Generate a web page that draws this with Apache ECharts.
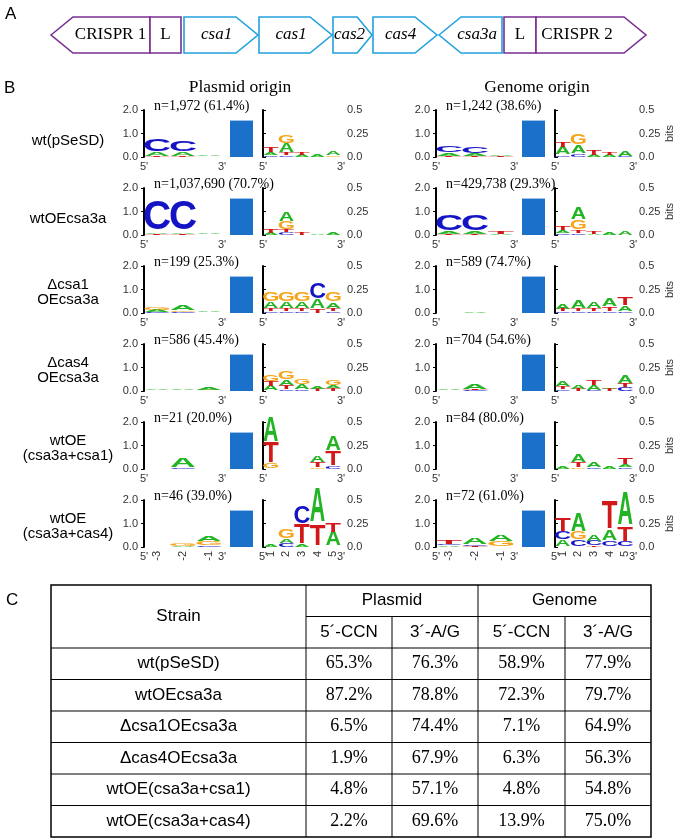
<!DOCTYPE html>
<html><head><meta charset="utf-8">
<script src="https://cdn.jsdelivr.net/npm/echarts@6/dist/echarts.min.js"></script>
<style>html,body{margin:0;padding:0;background:#fff}#c{width:675px;height:838px}</style>
</head><body><div id="c"></div>
<script>
// ---------------- DATA ----------------
const geneNames = ['CRISPR 1','L','csa1','cas1','cas2','cas4','csa3a','L','CRISPR 2'];
const geneStart = [0, 99, 133, 208, 282, 322, 388, 453, 485];
const geneEnd   = [99, 130, 207, 281, 321, 386, 451, 485, 595];
const geneDir   = [-1, 0, 1, 1, 1, 1, -1, 0, 1];
const geneIsCas = [0, 0, 1, 1, 1, 1, 1, 0, 0];

const rowLabels = [['wt(pSeSD)'], ['wtOEcsa3a'], ['Δcsa1','OEcsa3a'], ['Δcas4','OEcsa3a'], ['wtOE','(csa3a+csa1)'], ['wtOE','(csa3a+cas4)']];
const nPlasmid = ['n=1,972 (61.4%)','n=1,037,690 (70.7%)','n=199 (25.3%)','n=586 (45.4%)','n=21 (20.0%)','n=46 (39.0%)'];
const nGenome  = ['n=1,242 (38.6%)','n=429,738 (29.3%)','n=589 (74.7%)','n=704 (54.6%)','n=84 (80.0%)','n=72 (61.0%)'];
const spacerBar = [1.55, 1.55, 1.55, 1.55, 1.55, 1.55];
const upTicks = ['-3','-2','-1'];
const downTicks = ['1','2','3','4','5'];

// letter stacks (bottom -> top), [letter, bits]
const plasmidUp = [
  [[['T',0.03],['A',0.15],['C',0.5]], [['T',0.03],['A',0.15],['C',0.48]], [['T',0.02],['G',0.02],['A',0.04]]],
  [[['T',0.03],['A',0.07],['C',1.3]], [['T',0.03],['A',0.07],['C',1.3]], [['T',0.02],['A',0.05]]],
  [[['C',0.03],['A',0.09],['G',0.12]], [['C',0.04],['G',0.05],['A',0.2]], [['G',0.02],['A',0.05]]],
  [[['G',0.02],['A',0.03]], [['T',0.02],['G',0.02],['A',0.07]], [['T',0.02],['G',0.03],['A',0.08]]],
  [[['A',0.01]], [['C',0.05],['A',0.4]], []],
  [[['A',0.02]], [['A',0.05],['G',0.1]], [['C',0.08],['G',0.15],['A',0.2]]]
];
const genomeUp = [
  [[['T',0.03],['A',0.13],['C',0.3]], [['T',0.03],['A',0.12],['C',0.3]], [['T',0.03],['A',0.05]]],
  [[['T',0.03],['A',0.08],['C',0.7]], [['T',0.03],['A',0.08],['C',0.7]], [['A',0.04],['T',0.08]]],
  [[['A',0.02]], [['A',0.03]], []],
  [[['T',0.02],['A',0.05]], [['C',0.03],['T',0.04],['A',0.22]], [['A',0.02]]],
  [[['A',0.01]], [['T',0.02],['A',0.02]], []],
  [[['A',0.06],['C',0.04],['T',0.16]], [['T',0.04],['C',0.06],['A',0.26]], [['G',0.22],['A',0.29]]]
];
const plasmidDown = [
  [[['C',0.02],['A',0.03],['T',0.05]], [['C',0.02],['T',0.02],['A',0.1],['G',0.09]], [['A',0.02],['T',0.02]], [['A',0.02]], [['G',0.02],['A',0.04]]],
  [[['A',0.02],['T',0.04]], [['C',0.03],['T',0.02],['G',0.09],['A',0.1]], [['T',0.02]], [['A',0.01]], [['A',0.02]]],
  [[['C',0.02],['T',0.02],['A',0.07],['G',0.1]], [['C',0.02],['T',0.02],['A',0.07],['G',0.1]], [['C',0.02],['T',0.02],['A',0.07],['G',0.1]], [['T',0.04],['A',0.1],['C',0.17]], [['C',0.02],['T',0.03],['A',0.06],['G',0.1]]],
  [[['A',0.05],['T',0.05],['G',0.07]], [['C',0.02],['T',0.04],['A',0.06],['G',0.09]], [['C',0.02],['A',0.05],['G',0.05]], [['T',0.02],['A',0.02]], [['T',0.03],['A',0.03],['G',0.06]]],
  [[['G',0.05],['T',0.22],['A',0.27]], [], [], [['G',0.02],['T',0.05],['A',0.07]], [['C',0.03],['T',0.15],['A',0.15]]],
  [[['A',0.02]], [['C',0.04],['A',0.04],['G',0.1]], [['A',0.02],['T',0.21],['C',0.19]], [['T',0.23],['A',0.37]], [['A',0.15],['T',0.1]]]
];
const genomeDown = [
  [[['C',0.02],['A',0.08],['T',0.05]], [['C',0.03],['A',0.09],['G',0.11]], [['A',0.02],['T',0.05]], [['A',0.02],['T',0.02]], [['C',0.01],['A',0.05]]],
  [[['C',0.02],['A',0.03],['T',0.04]], [['C',0.02],['T',0.03],['G',0.1],['A',0.13]], [['A',0.01],['T',0.03]], [['A',0.02]], [['A',0.04]]],
  [[['C',0.02],['T',0.02],['A',0.06]], [['C',0.02],['T',0.02],['A',0.08]], [['C',0.02],['T',0.02],['A',0.07]], [['C',0.02],['T',0.04],['A',0.08]], [['C',0.02],['A',0.05],['T',0.09]]],
  [[['C',0.02],['T',0.03],['A',0.05]], [['T',0.02],['A',0.04]], [['C',0.01],['A',0.05],['T',0.06]], [['T',0.02],['A',0.01]], [['C',0.04],['T',0.04],['A',0.09]]],
  [[['A',0.03]], [['G',0.02],['T',0.05],['A',0.08]], [['C',0.02],['A',0.05]], [['A',0.02]], [['C',0.02],['A',0.02],['T',0.07]]],
  [[['A',0.07],['C',0.08],['T',0.14]], [['C',0.07],['G',0.08],['A',0.19]], [['T',0.01],['C',0.05],['A',0.07]], [['C',0.06],['A',0.11],['T',0.3]], [['C',0.05],['T',0.15],['A',0.35]]]
];

const tableStrains = ['wt(pSeSD)','wtOEcsa3a','Δcsa1OEcsa3a','Δcas4OEcsa3a','wtOE(csa3a+csa1)','wtOE(csa3a+cas4)'];
const plasmidCCN = ['65.3%','87.2%','6.5%','1.9%','4.8%','2.2%'];
const plasmidAG  = ['76.3%','78.8%','74.4%','67.9%','57.1%','69.6%'];
const genomeCCN  = ['58.9%','72.3%','7.1%','6.3%','4.8%','13.9%'];
const genomeAG   = ['77.9%','79.7%','64.9%','56.3%','54.8%','75.0%'];

// ---------------- STYLE / LAYOUT ----------------
const SANS = '"Liberation Sans", Arial, sans-serif';
const SERIF = '"Liberation Serif", "Times New Roman", serif';
const LCOL = {A:'#22B422', C:'#1414C4', G:'#F5A51C', T:'#D21818'};
const GW = {A:0.70, C:0.64, G:0.68, T:0.58};
const CH = {A:0.716, C:0.74, G:0.74, T:0.716};
const ROW0 = 110, PITCH = 78, LH = 47, COLDX = 292;

const grids = [], xAxes = [], yAxes = [], series = [], graphics = [];
function addGrid(left, top, width, height) {
  grids.push({left, top, width, height, containLabel: false, outerBoundsMode: 'none'});
  return grids.length - 1;
}
const axisLab = {fontSize: 11, color: '#333', fontFamily: SANS};

function logoSeries(xi, yi, stacks) {
  const data = [];
  stacks.forEach((st, i) => {
    let b = 0;
    st.forEach(([L, h]) => { data.push([i + 0.5, b, b + h, 'ACGT'.indexOf(L)]); b += h; });
  });
  return {
    type: 'custom', xAxisIndex: xi, yAxisIndex: yi, data, silent: true, clip: false,
    renderItem(params, api) {
      const x = api.value(0), b = api.value(1), t = api.value(2);
      const L = 'ACGT'[api.value(3)];
      const p0 = api.coord([x - 0.5, b]), p1 = api.coord([x + 0.5, t]);
      const w = (p1[0] - p0[0]) * 0.96, h = p0[1] - p1[1];
      if (h < 0.4) return null;
      return {
        type: 'text', x: (p0[0] + p1[0]) / 2, y: (p0[1] + p1[1]) / 2,
        scaleX: w / (GW[L] * 100), scaleY: h / (CH[L] * 100),
        style: {text: L, font: 'bold 100px ' + SANS, fill: LCOL[L], align: 'center', verticalAlign: 'middle'}
      };
    }
  };
}

for (let c = 0; c < 2; c++) {
  const upD = c === 0 ? plasmidUp : genomeUp;
  const dnD = c === 0 ? plasmidDown : genomeDown;
  for (let r = 0; r < 6; r++) {
    const top = ROW0 + PITCH * r;
    const dx = COLDX * c;
    let g = addGrid(144 + dx, top, 78, LH);
    xAxes.push({gridIndex: g, type: 'value', min: 0, max: 3, interval: 3,
      axisLine: {show: false}, axisTick: {show: false}, splitLine: {show: false},
      axisLabel: Object.assign({margin: 4, formatter: v => v === 0 ? "5'" : "3'"}, axisLab)});
    yAxes.push({gridIndex: g, type: 'value', min: 0, max: 2, interval: 1,
      axisLine: {show: true, lineStyle: {color: '#000', width: 2}},
      axisTick: {show: true, length: 3, lineStyle: {color: '#000', width: 1}},
      splitLine: {show: false},
      axisLabel: Object.assign({margin: 6, formatter: v => v.toFixed(1)}, axisLab)});
    series.push(logoSeries(xAxes.length - 1, yAxes.length - 1, upD[r]));
    g = addGrid(230 + dx, top, 23, LH);
    xAxes.push({gridIndex: g, type: 'category', data: ['spacer'], show: false});
    yAxes.push({gridIndex: g, type: 'value', min: 0, max: 2, show: false});
    series.push({type: 'bar', xAxisIndex: xAxes.length - 1, yAxisIndex: yAxes.length - 1,
      data: [spacerBar[r]], barWidth: '100%', itemStyle: {color: '#1B70C9'}, silent: true});
    g = addGrid(263 + dx, top, 78, LH);
    xAxes.push({gridIndex: g, type: 'value', min: 0, max: 5, interval: 5,
      axisLine: {show: false}, axisTick: {show: false}, splitLine: {show: false},
      axisLabel: Object.assign({margin: 4, formatter: v => v === 0 ? "5'" : "3'"}, axisLab)});
    const ya = {gridIndex: g, type: 'value', position: 'right', min: 0, max: 0.5, interval: 0.25,
      axisLine: {show: true, lineStyle: {color: '#000', width: 2}},
      axisTick: {show: true, length: 3, lineStyle: {color: '#000', width: 1}},
      splitLine: {show: false},
      axisLabel: Object.assign({margin: 6, formatter: v => v === 0.25 ? '0.25' : v.toFixed(1)}, axisLab)};
    if (c === 1) Object.assign(ya, {name: 'bits', nameLocation: 'middle', nameGap: 30, nameRotate: 90,
      nameTextStyle: {fontSize: 11, color: '#333', fontFamily: SANS}});
    yAxes.push(ya);
    series.push(logoSeries(xAxes.length - 1, yAxes.length - 1, dnD[r]));
    if (r === 5) {
      [[144 + dx, upTicks], [263 + dx, downTicks]].forEach(([left, ticks]) => {
        const gg = addGrid(left, top, 78, LH);
        xAxes.push({gridIndex: gg, type: 'category', data: ticks, axisLine: {show: false}, axisTick: {show: false},
          axisLabel: Object.assign({margin: 4, rotate: 90}, axisLab)});
        yAxes.push({gridIndex: gg, type: 'value', min: 0, max: 1, show: false});
      });
    }
    graphics.push({type: 'text', left: 154 + dx, top: top - 11,
      style: {text: (c === 0 ? nPlasmid : nGenome)[r], font: '14px ' + SERIF, fill: '#000'}});
  }
}
rowLabels.forEach((lines, r) => {
  const cy = ROW0 + PITCH * r + LH / 2 + (lines.length === 1 ? 7 : 3);
  lines.forEach((t, i) => {
    const y = cy + (i - (lines.length - 1) / 2) * 15;
    graphics.push({type: 'text', x: 68, y, style: {text: t, font: '15px ' + SANS, fill: '#000', align: 'center', verticalAlign: 'middle'}});
  });
});
[['A', 5, 14], ['B', 4, 88], ['C', 6, 600]].forEach(([t, x, y]) =>
  graphics.push({type: 'text', x, y, style: {text: t, font: '17px ' + SANS, fill: '#000', verticalAlign: 'middle'}}));
[['Plasmid origin', 240], ['Genome origin', 537]].forEach(([t, x]) =>
  graphics.push({type: 'text', x, y: 87, style: {text: t, font: '17.5px ' + SERIF, fill: '#000', align: 'center', verticalAlign: 'middle'}}));

const gg = addGrid(51, 17, 595, 36);
xAxes.push({gridIndex: gg, type: 'value', min: 0, max: 595, show: false});
yAxes.push({gridIndex: gg, type: 'value', min: 0, max: 1, show: false});
series.push({
  type: 'custom', xAxisIndex: xAxes.length - 1, yAxisIndex: yAxes.length - 1, silent: true,
  data: geneNames.map((n, i) => [geneStart[i], geneEnd[i], geneDir[i], geneIsCas[i], i]),
  renderItem(params, api) {
    const s = api.value(0), e = api.value(1), d = api.value(2), cas = api.value(3), idx = api.value(4);
    const head = Math.min(22, 0.38 * (e - s));
    const P = (x, y) => api.coord([x, y]);
    let pts, bodyC;
    if (d === 1) { pts = [P(s,1), P(e-head,1), P(e,0.5), P(e-head,0), P(s,0)]; bodyC = (s + e - head) / 2 + (cas ? 0.3 * head : -3); }
    else if (d === -1) { pts = [P(s,0.5), P(s+head,1), P(e,1), P(e,0), P(s+head,0)]; bodyC = (s + head + e) / 2 - (cas ? 0.2 * head : 1); }
    else { pts = [P(s,1), P(e,1), P(e,0), P(s,0)]; bodyC = (s + e) / 2; }
    const color = cas ? '#22A2DE' : '#7A2E92';
    const c = P(bodyC, 0.5);
    return {type: 'group', children: [
      {type: 'polygon', shape: {points: pts}, style: {fill: '#fff', stroke: color, lineWidth: 1.6}},
      {type: 'text', x: c[0], y: c[1], style: {text: geneNames[idx], font: (cas ? 'italic ' : '') + '17px ' + SERIF,
        fill: '#000', align: 'center', verticalAlign: 'middle'}}
    ]};
  }
});

const TX = [51, 306, 392, 478, 565, 651];
const TY0 = 585, TRH = 31.5;
const ty = k => TY0 + TRH * k;
const line = (x1, y1, x2, y2, w) => graphics.push({type: 'line', shape: {x1, y1, x2, y2}, style: {stroke: '#000', lineWidth: w || 1}});
graphics.push({type: 'rect', shape: {x: TX[0], y: ty(0), width: TX[5] - TX[0], height: ty(8) - ty(0)}, style: {fill: 'none', stroke: '#000', lineWidth: 1.5}});
line(TX[1], ty(1), TX[5], ty(1));
for (let k = 2; k < 8; k++) line(TX[0], ty(k), TX[5], ty(k));
line(TX[1], ty(0), TX[1], ty(8));
line(TX[3], ty(0), TX[3], ty(8));
line(TX[2], ty(1), TX[2], ty(8));
line(TX[4], ty(1), TX[4], ty(8));
const cell = (t, x, y, font) => graphics.push({type: 'text', x, y, style: {text: t, font, fill: '#000', align: 'center', verticalAlign: 'middle'}});
const TF = '17px ' + SANS, NF = '18px ' + SERIF;
cell('Strain', (TX[0] + TX[1]) / 2, ty(1), TF);
cell('Plasmid', (TX[1] + TX[3]) / 2, ty(0.5), TF);
cell('Genome', (TX[3] + TX[5]) / 2, ty(0.5), TF);
['5´-CCN', '3´-A/G', '5´-CCN', '3´-A/G'].forEach((t, i) => cell(t, (TX[i + 1] + TX[i + 2]) / 2, ty(1.5), TF));
tableStrains.forEach((s, r) => {
  const y = ty(2.5 + r);
  cell(s, (TX[0] + TX[1]) / 2, y, TF);
  [plasmidCCN, plasmidAG, genomeCCN, genomeAG].forEach((arr, i) => cell(arr[r], (TX[i + 1] + TX[i + 2]) / 2, y, NF));
});

const chart = echarts.init(document.getElementById('c'), null, {renderer: 'canvas'});
chart.setOption({
  animation: false, backgroundColor: '#fff',
  grid: grids, xAxis: xAxes, yAxis: yAxes, series, graphic: graphics
});
</script></body></html>
